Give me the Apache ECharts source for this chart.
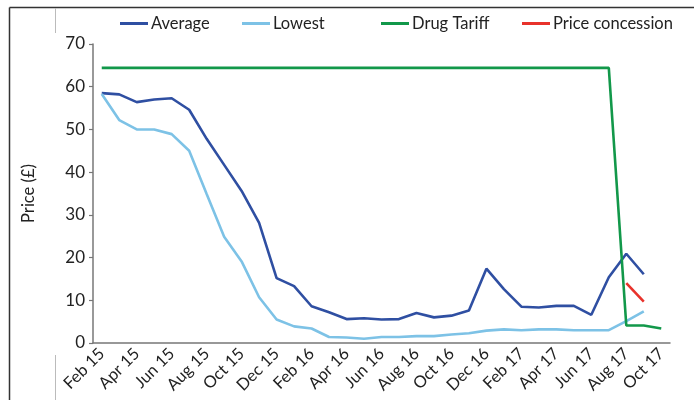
<!DOCTYPE html>
<html>
<head>
<meta charset="utf-8">
<script src="https://cdn.jsdelivr.net/npm/echarts@6/dist/echarts.min.js"></script>
<style>html,body{margin:0;padding:0;background:#fff}#c{width:694px;height:400px}</style>
</head>
<body>
<div id="c"></div>
<script>
const months = ['Feb 15','Mar 15','Apr 15','May 15','Jun 15','Jul 15','Aug 15','Sep 15','Oct 15','Nov 15','Dec 15',
  'Jan 16','Feb 16','Mar 16','Apr 16','May 16','Jun 16','Jul 16','Aug 16','Sep 16','Oct 16','Nov 16','Dec 16',
  'Jan 17','Feb 17','Mar 17','Apr 17','May 17','Jun 17','Jul 17','Aug 17','Sep 17','Oct 17'];
const average = [58.5,58.2,56.4,57.0,57.3,54.6,47.8,41.7,35.6,28.1,15.2,13.3,8.6,7.2,5.6,5.8,5.5,5.6,7.0,6.0,6.4,7.6,17.4,12.6,8.5,8.3,8.7,8.7,6.6,15.4,20.9,16.1,null];
const lowest = [58.3,52.2,50.0,50.0,48.9,45.0,34.9,24.9,19.1,10.7,5.5,3.9,3.4,1.4,1.3,1.0,1.4,1.4,1.6,1.6,2.0,2.3,2.9,3.2,3.0,3.2,3.2,3.0,3.0,3.0,5.1,7.4,null];
const drugTariff = [64.4,64.4,64.4,64.4,64.4,64.4,64.4,64.4,64.4,64.4,64.4,64.4,64.4,64.4,64.4,64.4,64.4,64.4,64.4,64.4,64.4,64.4,64.4,64.4,64.4,64.4,64.4,64.4,64.4,64.4,4.1,4.1,3.4];
const priceConcession = [null,null,null,null,null,null,null,null,null,null,null,null,null,null,null,null,null,null,null,null,null,null,null,null,null,null,null,null,null,null,14.0,9.7,null];

const FONT = 'Lato';
const chart = echarts.init(document.getElementById('c'));
function lg(name, left){
  return {show:true, data:[name], left:left, top:15, icon:'rect', itemWidth:28, itemHeight:3, itemGap:0,
    textStyle:{fontFamily:FONT,fontSize:16.5,color:'#222',padding:[3,0,0,-2]}, padding:0};
}
function line(name, data, color){
  return {name:name, type:'line', data:data, symbol:'none', connectNulls:false,
    lineStyle:{width:2.6,color:color}, itemStyle:{color:color}, z: 2};
}
chart.setOption({
  animation:false,
  backgroundColor:'#fff',
  textStyle:{fontFamily:FONT},
  legend:[lg('Average',120), lg('Lowest',242), lg('Drug Tariff',381), lg('Price concession',522)],
  grid:{left:93, right:24, top:44, bottom:57, containLabel:false},
  xAxis:{type:'category', data:months, boundaryGap:true,
    axisLine:{lineStyle:{color:'#777',width:1.5}},
    axisTick:{interval:1, length:5, lineStyle:{color:'#777',width:1.2}},
    axisLabel:{interval:1, rotate:45, fontFamily:FONT, fontSize:16.5, color:'#222', margin:8}},
  yAxis:{type:'value', min:0, max:70, interval:10,
    name:'Price (£)', nameLocation:'middle', nameGap:56, nameRotate:90,
    nameTextStyle:{fontFamily:FONT,fontSize:16.5,color:'#222'},
    splitLine:{show:false},
    axisLine:{show:true,lineStyle:{color:'#777',width:1.5}},
    axisTick:{show:true,length:4,lineStyle:{color:'#777',width:1.2}},
    axisLabel:{fontFamily:FONT,fontSize:17,color:'#222',margin:8}},
  series:[
    line('Average', average, '#2F4FA2'),
    line('Lowest', lowest, '#7DC2E6'),
    line('Drug Tariff', drugTariff, '#12984A'),
    line('Price concession', priceConcession, '#E8322B')
  ],
  graphic:[
    {type:'line', shape:{x1:9.5,y1:7.5,x2:694,y2:7.5}, style:{stroke:'#333',lineWidth:1.5}},
    {type:'line', shape:{x1:9.5,y1:7.5,x2:9.5,y2:400}, style:{stroke:'#333',lineWidth:1.5}},
    {type:'line', shape:{x1:55.5,y1:8,x2:55.5,y2:33}, style:{stroke:'#bbb',lineWidth:1}},
    {type:'line', shape:{x1:55.5,y1:355,x2:55.5,y2:400}, style:{stroke:'#bbb',lineWidth:1}}
  ]
});
</script>
</body>
</html>
